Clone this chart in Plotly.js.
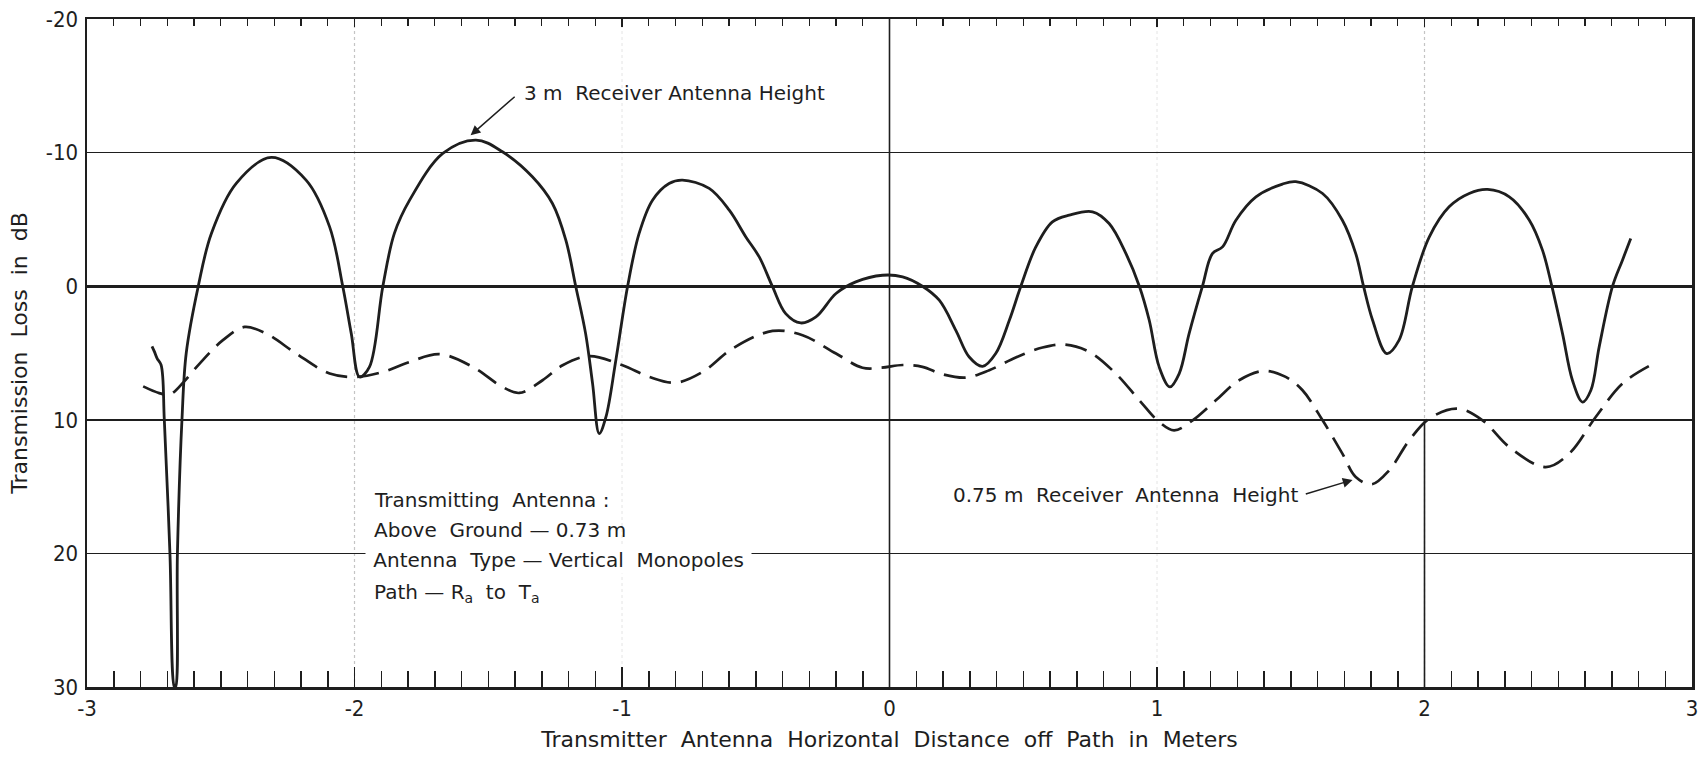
<!DOCTYPE html>
<html>
<head>
<meta charset="utf-8">
<script src="https://cdn.plot.ly/plotly-3.0.1.min.js"></script>
<style>
html,body{margin:0;padding:0;background:#fff;}
#chart{width:1701px;height:757px;}
</style>
</head>
<body>
<div id="chart"></div>
<script>
// 3 m receiver antenna height (solid)
const x3m = [-2.757,-2.748,-2.738,-2.723,-2.711,-2.690,-2.673,-2.669,-2.662,-2.645,-2.629,-2.584,-2.535,-2.442,-2.311,-2.181,-2.093,-2.044,-2.012,-1.981,-1.944,-1.894,-1.851,-1.794,-1.670,-1.546,-1.447,-1.335,-1.260,-1.210,-1.173,-1.136,-1.110,-1.085,-1.060,-1.023,-0.979,-0.936,-0.886,-0.824,-0.774,-0.674,-0.599,-0.537,-0.487,-0.437,-0.388,-0.332,-0.275,-0.200,-0.126,-0.026,0.049,0.123,0.186,0.248,0.298,0.348,0.397,0.448,0.491,0.547,0.609,0.672,0.759,0.821,0.884,0.934,0.971,1.008,1.048,1.083,1.120,1.170,1.207,1.245,1.295,1.370,1.469,1.519,1.619,1.693,1.743,1.772,1.806,1.859,1.905,1.955,2.018,2.092,2.167,2.236,2.317,2.392,2.441,2.476,2.516,2.553,2.591,2.622,2.653,2.703,2.740,2.771];
const y3m = [4.5,4.9,5.4,5.9,10,20,30,30,20,10,5.0,0,-3.95,-7.7,-9.64,-7.94,-4.44,0,3.55,6.79,6.04,0,-3.95,-6.44,-9.94,-10.94,-10.06,-8.19,-6.19,-3.45,0,3.55,7.29,11.03,9.79,5.54,0,-3.95,-6.44,-7.69,-7.94,-7.32,-5.69,-3.69,-2.19,0.05,2.05,2.75,2.3,0.55,-0.32,-0.82,-0.70,0,1.05,3.3,5.3,6.0,5.04,2.55,0,-2.94,-4.82,-5.32,-5.57,-4.69,-2.44,0,2.55,6.04,7.54,6.54,3.55,0,-2.44,-2.94,-4.94,-6.69,-7.64,-7.82,-6.94,-4.94,-2.44,0,2.55,5.04,4.04,0,-3.69,-5.94,-6.94,-7.24,-6.69,-4.94,-2.70,0,3.55,7.04,8.67,7.79,4.54,0,-1.95,-3.57];

// 0.75 m receiver antenna height (dashed)
const x075 = [-2.790,-2.730,-2.690,-2.640,-2.579,-2.492,-2.411,-2.330,-2.218,-2.093,-1.994,-1.894,-1.794,-1.682,-1.558,-1.447,-1.384,-1.297,-1.222,-1.123,-0.998,-0.898,-0.799,-0.699,-0.587,-0.437,-0.325,-0.200,-0.101,-0.030,0.049,0.123,0.198,0.285,0.373,0.472,0.572,0.653,0.747,0.846,0.934,1.008,1.064,1.133,1.220,1.307,1.401,1.481,1.544,1.619,1.693,1.743,1.803,1.868,1.943,2.018,2.123,2.217,2.317,2.453,2.541,2.640,2.740,2.840];
const y075 = [7.5,8.0,8.1,7.2,5.79,4.04,3.05,3.55,5.04,6.54,6.79,6.42,5.67,5.09,6.04,7.54,7.99,7.04,5.92,5.24,5.92,6.79,7.22,6.42,4.67,3.35,3.67,5.04,6.1,6.1,5.9,6.04,6.59,6.84,6.29,5.34,4.59,4.37,4.92,6.54,8.54,10.16,10.79,10.04,8.54,7.04,6.34,6.79,7.79,10.04,12.53,14.28,14.83,13.78,11.54,9.91,9.16,10.04,12.04,13.54,12.53,9.79,7.29,5.97];

const xTickVals = [-3,-2,-1,0,1,2,3];
const xTickText = ['-3','-2','-1','0','1','2','3'];
const yTickVals = [-20,-10,0,10,20,30];
const yTickText = ['-20','-10','0','10','20','30'];

const ink = '#1e1e1e';
const txtFont = {family:'DejaVu Sans, Verdana, sans-serif', size:20, color:ink};
const tickFont = {family:'Liberation Sans Narrow, DejaVu Sans Condensed, Arial Narrow, sans-serif', size:22, color:ink};

const traces = [
  {x:x3m, y:y3m, type:'scatter', mode:'lines', name:'3 m',
   line:{color:ink, width:2.8, shape:'spline', smoothing:1.0}, hoverinfo:'skip'},
  {x:x075, y:y075, type:'scatter', mode:'lines', name:'0.75 m',
   line:{color:ink, width:2.7, dash:'22px,10px', shape:'spline', smoothing:1.0}, hoverinfo:'skip'}
];

const shapes = [];
[-2,2].forEach(v=>{
  shapes.push({type:'line', xref:'x', yref:'y', x0:v, x1:v, y0:-20, y1:30,
    line:{color:'#c4c4c4', width:1.2, dash:'dot'}, layer:'below'});
});
[-1,1].forEach(v=>{
  shapes.push({type:'line', xref:'x', yref:'y', x0:v, x1:v, y0:-20, y1:30,
    line:{color:'#e4e4e4', width:1, dash:'dot'}, layer:'below'});
});
shapes.push({type:'line', xref:'x', yref:'y', x0:0, x1:0, y0:-20, y1:30, line:{color:ink, width:1.6}, layer:'below'});
shapes.push({type:'line', xref:'x', yref:'y', x0:2, x1:2, y0:10, y1:30, line:{color:ink, width:1.6}, layer:'below'});

const annotations = [
  {x:-1.375, y:-14.46, xref:'x', yref:'y', text:'3 m  Receiver Antenna Height', showarrow:false,
   xanchor:'left', yanchor:'middle', font:txtFont},
  {x:-1.566, y:-11.3, ax:-1.39, ay:-14.38, axref:'x', ayref:'y', xref:'x', yref:'y', text:' ',
   showarrow:true, arrowhead:2, arrowsize:1.3, arrowwidth:1.5, arrowcolor:ink, standoff:0, startstandoff:0},
  {x:1.536, y:15.66, xref:'x', yref:'y', text:'0.75 m  Receiver  Antenna  Height', showarrow:false,
   xanchor:'right', yanchor:'middle', font:txtFont},
  {x:1.731, y:14.5, ax:1.545, ay:15.62, axref:'x', ayref:'y', xref:'x', yref:'y', text:' ',
   showarrow:true, arrowhead:2, arrowsize:1.3, arrowwidth:1.5, arrowcolor:ink, standoff:0, startstandoff:0},
  {x:-1.935, y:16.03, xref:'x', yref:'y', text:'Transmitting  Antenna :', showarrow:false, xanchor:'left', yanchor:'middle', font:txtFont},
  {x:-1.935, y:18.28, xref:'x', yref:'y', text:'Above  Ground — 0.73 m', showarrow:false, xanchor:'left', yanchor:'middle', font:txtFont},
  {x:-1.96, y:20.52, xref:'x', yref:'y', text:' Antenna  Type — Vertical  Monopoles ', showarrow:false, xanchor:'left', yanchor:'middle', font:txtFont, bgcolor:'#ffffff', borderpad:1},
  {x:-1.935, y:23.0, xref:'x', yref:'y', text:'Path — R<sub>a</sub>  to  T<sub>a</sub>', showarrow:false, xanchor:'left', yanchor:'middle', font:txtFont}
];

const layout = {
  width:1701, height:757,
  margin:{l:87, r:9, t:19, b:70},
  paper_bgcolor:'#ffffff', plot_bgcolor:'#ffffff',
  showlegend:false,
  xaxis:{
    range:[-3,3], tickmode:'array', tickvals:xTickVals, ticktext:xTickText, tickfont:tickFont,
    showgrid:false, zeroline:false, showline:true, linecolor:ink, linewidth:2.5, mirror:true,
    ticks:'inside', ticklen:20, tickwidth:1.6, tickcolor:ink, ticklabelstandoff:0,
    minor:{tickmode:'linear', dtick:0.1, tick0:0, ticks:'inside', ticklen:16, tickwidth:1.5, tickcolor:ink, showgrid:false},
    title:{text:'Transmitter  Antenna  Horizontal  Distance  off  Path  in  Meters', font:{family:'DejaVu Sans, Verdana, sans-serif', size:22, color:ink}, standoff:12}
  },
  xaxis2:{
    overlaying:'x', side:'top', range:[-3,3], showticklabels:false, showgrid:false, zeroline:false, showline:false,
    tickmode:'linear', dtick:1, tick0:0,
    ticks:'inside', ticklen:8, tickwidth:1.3, tickcolor:ink,
    minor:{tickmode:'linear', dtick:0.1, tick0:0, ticks:'inside', ticklen:7, tickwidth:1.3, tickcolor:ink}
  },
  yaxis:{
    range:[30,-20], tickmode:'array', tickvals:yTickVals, ticktext:yTickText, tickfont:tickFont,
    showgrid:true, gridcolor:ink, gridwidth:1.5,
    zeroline:true, zerolinecolor:ink, zerolinewidth:2.8,
    showline:true, linecolor:ink, linewidth:2.5, mirror:true, ticks:'', ticklabelstandoff:2,
    title:{text:'Transmission  Loss  in  dB', font:{family:'DejaVu Sans, Verdana, sans-serif', size:22, color:ink}, standoff:12}
  },
  shapes:shapes,
  annotations:annotations
};

// invisible trace that activates the top axis
traces.push({x:[-3,3], y:[30,30], xaxis:'x2', yaxis:'y', mode:'lines', line:{width:0}, hoverinfo:'skip', showlegend:false});

Plotly.newPlot('chart', traces, layout, {displayModeBar:false, staticPlot:true});
</script>
</body>
</html>
